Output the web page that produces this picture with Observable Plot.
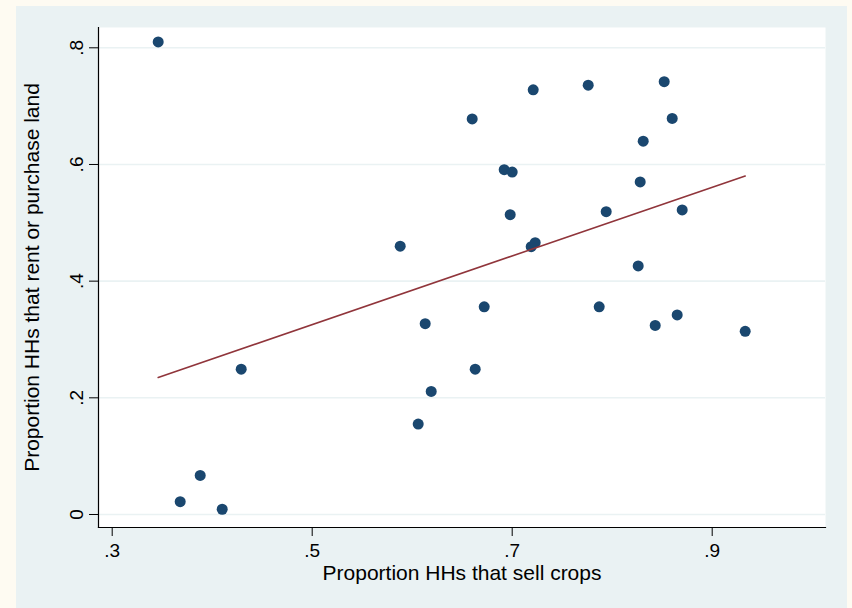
<!DOCTYPE html>
<html>
<head>
<meta charset="utf-8">
<script src="https://cdn.jsdelivr.net/npm/d3@7"></script>
<script src="https://cdn.jsdelivr.net/npm/@observablehq/plot@0.6"></script>
<style>
  html, body { margin: 0; padding: 0; background: #FEFBF2; }
  #wrap { position: relative; width: 852px; height: 608px; overflow: hidden; }
  #region { position: absolute; left: 16px; top: 6px; width: 831px; height: 602px; background: #EAF2F3; }
  #chart { position: absolute; left: 0; top: 0; }
</style>
</head>
<body>
<div id="wrap"><div id="region"></div><div id="chart"></div></div>
<script>
// Proportion of HHs that sell crops (x) and that rent or purchase land (y)
const sellCrops = [0.346, 0.368, 0.388, 0.410, 0.429, 0.588, 0.606, 0.613, 0.619, 0.660,
                   0.663, 0.672, 0.692, 0.700, 0.698, 0.721, 0.719, 0.723, 0.776, 0.852,
                   0.860, 0.831, 0.828, 0.794, 0.870, 0.826, 0.787, 0.843, 0.865, 0.933];
const rentLand  = [0.810, 0.022, 0.067, 0.009, 0.249, 0.460, 0.155, 0.327, 0.211, 0.678,
                   0.249, 0.356, 0.591, 0.587, 0.514, 0.728, 0.459, 0.466, 0.736, 0.742,
                   0.679, 0.640, 0.570, 0.519, 0.522, 0.426, 0.356, 0.324, 0.342, 0.314];
const xTicks = [0.3, 0.5, 0.7, 0.9];
const yTicks = [0, 0.2, 0.4, 0.6, 0.8];
const xDomain = [0.2863, 1.0133];
const yDomain = [-0.0223, 0.8348];
const xTitle = "Proportion HHs that sell crops";
const yTitle = "Proportion HHs that rent or purchase land";

const data = sellCrops.map((x, i) => ({x, y: rentLand[i]}));
const fmt = d => d === 0 ? "0" : String(d).replace(/^0/, "");

const chart = Plot.plot({
  width: 852,
  height: 608,
  marginLeft: 98,
  marginRight: 27,
  marginTop: 27,
  marginBottom: 81,
  style: {background: "transparent", fontFamily: "'Liberation Sans', Arial, sans-serif", fontSize: "19px", color: "#000"},
  x: {domain: xDomain},
  y: {domain: yDomain},
  marks: [
    Plot.frame({fill: "white", stroke: null}),
    Plot.gridY(yTicks, {stroke: "#EAF2F3", strokeOpacity: 1, strokeWidth: 1.6}),
    Plot.axisX(xTicks, {tickSize: 9, tickPadding: 7, tickFormat: fmt, label: null, stroke: "#000", fontSize: 19}),
    Plot.axisY(yTicks, {tickSize: 9, tickPadding: 7, tickRotate: -90, tickFormat: fmt, label: null, stroke: "#000", fontSize: 19}),
    Plot.frame({anchor: "left", stroke: "#000", strokeWidth: 1.2}),
    Plot.frame({anchor: "bottom", stroke: "#000", strokeWidth: 1.2}),
    Plot.dot(data, {x: "x", y: "y", r: 5.5, fill: "#1A476F", stroke: null}),
    Plot.linearRegressionY(data, {x: "x", y: "y", stroke: "#90353B", strokeWidth: 1.6, ci: 0}),
    Plot.text([xTitle], {frameAnchor: "bottom", dy: 52, lineAnchor: "bottom", fontSize: 21, fill: "#000"}),
    Plot.text([yTitle], {frameAnchor: "left", dx: -74, rotate: -90, textAnchor: "middle", lineAnchor: "top", fontSize: 21, fill: "#000"})
  ]
});
document.getElementById("chart").appendChild(chart);
</script>
</body>
</html>
